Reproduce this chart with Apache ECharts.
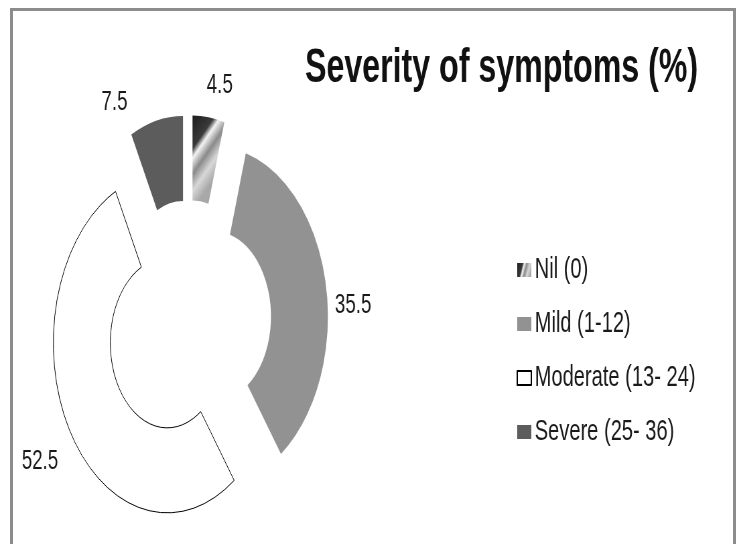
<!DOCTYPE html>
<html>
<head>
<meta charset="utf-8">
<script src="https://cdn.jsdelivr.net/npm/echarts@6/dist/echarts.min.js"></script>
<style>
  html, body { margin: 0; padding: 0; background: #fff; }
  .wrap { position: absolute; left: 0; top: 0; width: 737px; height: 544px; overflow: hidden; }
  /* the reference is squeezed sideways, so draw wide and squeeze */
  .chartBox { width: 1100px; height: 544px; transform: scaleX(0.67); transform-origin: 0 0; }
  .frame { position: absolute; left: 10px; top: 8px; width: 720px; height: 600px; border: 3px solid #8c8c8c; box-sizing: content-box; pointer-events: none; }
</style>
</head>
<body>
<div class="wrap">
  <div class="chartBox" id="chartBox"></div>
  <div class="frame"></div>
</div>
<script>
// categories and values (%)
var categories = ['Nil (0)', 'Mild (1-12)', 'Moderate (13- 24)', 'Severe (25- 36)']
var percents = [4.5, 35.5, 52.5, 7.5]
// how far each value label sits from its slice
var labelLength = [30, 4, 22, 18]
var labelLength2 = [0, 10, 0, 30]
var labelNudge = [[-12, -2], [-6, 19], [6, 18], [-4, -1]]

var nilFill = new echarts.graphic.LinearGradient(0, 0, 1, 0.55, [
  { offset: 0, color: '#1e1e1e' },
  { offset: 0.35, color: '#3a3a3a' },
  { offset: 0.45, color: '#f4f4f4' },
  { offset: 0.62, color: '#8a8a8a' },
  { offset: 0.8, color: '#d8d8d8' },
  { offset: 1, color: '#a8a8a8' }
])
var styles = [
  { color: nilFill },
  { color: '#929292' },
  { color: '#ffffff', borderColor: '#000000', borderWidth: 1 },
  { color: '#5c5c5c' }
]

var myChart = echarts.init(document.getElementById('chartBox'), null, { renderer: 'canvas' })
myChart.setOption({
  animation: false,
  title: {
    text: 'Severity of symptoms (%)',
    right: 58,
    top: 45,
    padding: 0,
    textStyle: {
      fontFamily: 'Liberation Sans',
      fontWeight: 'bold',
      fontSize: 48,
      color: '#111'
    }
  },
  legend: {
    orient: 'vertical',
    left: 766,
    top: 250,
    itemWidth: 21,
    itemHeight: 14,
    itemGap: 24,
    icon: 'rect',
    data: categories,
    textStyle: {
      fontFamily: 'Liberation Sans',
      fontSize: 30,
      color: '#1a1a1a'
    }
  },
  series: [{
    type: 'pie',
    center: [282, 323],
    radius: [85, 170],
    startAngle: 90,
    clockwise: true,
    selectedMode: 'multiple',
    selectedOffset: 38,
    emphasis: { disabled: true },
    label: {
      show: true,
      position: 'outside',
      formatter: '{c}',
      fontFamily: 'Liberation Sans',
      fontSize: 28,
      color: '#1a1a1a'
    },
    labelLine: { show: false },
    labelLayout: function (params) {
      var n = labelNudge[params.dataIndex]
      return { dx: n[0], dy: n[1] }
    },
    data: categories.map(function (name, i) {
      return {
        name: name,
        value: percents[i],
        selected: true,
        itemStyle: styles[i],
        labelLine: { show: false, length: labelLength[i], length2: labelLength2[i] }
      }
    })
  }]
})
</script>
</body>
</html>
